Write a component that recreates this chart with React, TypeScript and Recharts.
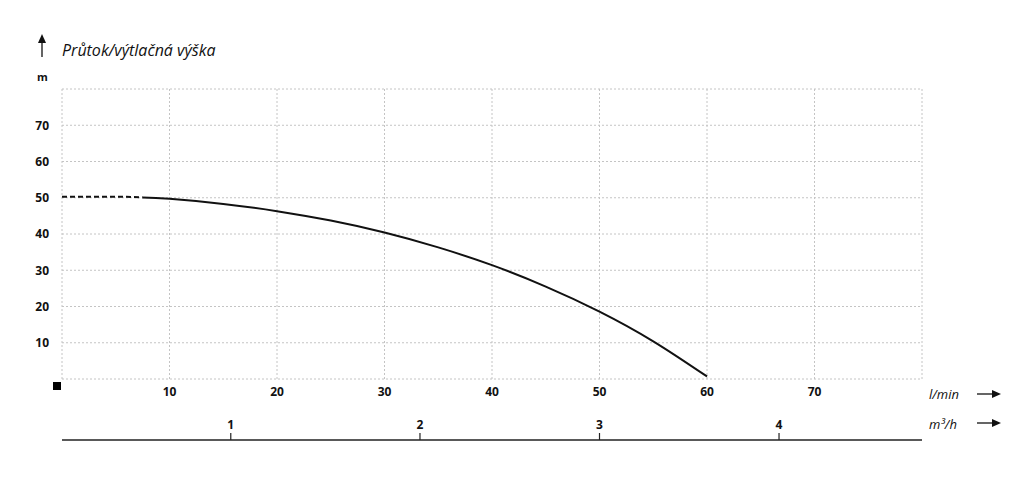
import { LineChart, Line, XAxis, YAxis, CartesianGrid, ReferenceDot } from 'recharts'

// Pump curve: flow (l/min) vs head (m)
const flowLmin = [0, 5, 7.5, 10, 15, 20, 25, 30, 35, 40, 45, 50, 55, 60]
const headDashed = [50.3, 50.3, 50.1, null, null, null, null, null, null, null, null, null, null, null]
const headSolid = [null, null, 50.1, 49.7, 48.3, 46.3, 43.7, 40.4, 36.3, 31.4, 25.5, 18.6, 10.4, 0.7]

const lminTicks = [0, 10, 20, 30, 40, 50, 60, 70, 80]
const headTicks = [0, 10, 20, 30, 40, 50, 60, 70, 80]
const m3hTickPos = [15.7, 33.3, 50, 66.7]
const m3hTickLabels = ['1', '2', '3', '4']

const data = flowLmin.map((q, i) => ({
  q,
  dashed: headDashed[i],
  solid: headSolid[i]
}))

const FONT = '"Open Sans", "Noto Sans", sans-serif'

const hideEnds = (v: number) => (v === 0 || v === 80 ? '' : String(v))

const M3hTick = ({ x, y, payload }: { x?: number; y?: number; payload?: { value: number } }) => {
  const idx = m3hTickPos.indexOf(payload?.value ?? -1)
  return (
    <g>
      <line x1={x} y1={y} x2={x} y2={(y ?? 0) - 7} stroke="#222" strokeWidth={1.2} />
      <text x={x} y={(y ?? 0) - 11} textAnchor="middle" fontSize={12} fontWeight={700} fontFamily={FONT} fill="#111">
        {m3hTickLabels[idx]}
      </text>
    </g>
  )
}

const OriginSquare = ({ cx, cy }: { cx?: number; cy?: number }) => (
  <rect x={(cx ?? 0) - 9} y={(cy ?? 0) + 3} width={8} height={8} fill="#000" />
)

const Arrow = ({ x1, y1, x2, y2 }: { x1: number; y1: number; x2: number; y2: number }) => {
  const ang = Math.atan2(y2 - y1, x2 - x1)
  const len = 9
  const w = 4
  const bx = x2 - len * Math.cos(ang)
  const by = y2 - len * Math.sin(ang)
  const px = -Math.sin(ang) * w
  const py = Math.cos(ang) * w
  return (
    <g>
      <line x1={x1} y1={y1} x2={bx} y2={by} stroke="#111" strokeWidth={1.3} />
      <polygon points={`${x2},${y2} ${bx + px},${by + py} ${bx - px},${by - py}`} fill="#111" />
    </g>
  )
}

export default function App() {
  const tickStyle = { fontSize: 12, fontWeight: 700, fill: '#111', fontFamily: FONT }
  return (
    <div style={{ position: 'absolute', left: 0, top: 0, width: 1033, height: 489, background: '#fff', fontFamily: FONT }}>
      <LineChart width={1033} height={489} data={data} margin={{ top: 89, right: 111, left: 0, bottom: 0 }}>
        <CartesianGrid stroke="#c4c4c4" strokeDasharray="2 2" xAxisId="lmin" />
        <XAxis
          xAxisId="lmin"
          dataKey="q"
          type="number"
          domain={[0, 80]}
          ticks={lminTicks}
          tickFormatter={hideEnds}
          axisLine={false}
          tickLine={false}
          tick={tickStyle}
          height={61}
          interval={0}
        />
        <XAxis
          xAxisId="m3h"
          dataKey="q"
          type="number"
          domain={[0, 80]}
          ticks={m3hTickPos}
          axisLine={{ stroke: '#222', strokeWidth: 1.5 }}
          tickLine={false}
          tickSize={0}
          tickMargin={0}
          tick={<M3hTick />}
          height={49}
          interval={0}
        />
        <YAxis
          type="number"
          domain={[0, 80]}
          ticks={headTicks}
          tickFormatter={hideEnds}
          axisLine={false}
          tickLine={false}
          tickMargin={7}
          tick={tickStyle}
          width={62}
          interval={0}
        />
        <Line
          xAxisId="lmin"
          dataKey="dashed"
          type="monotone"
          stroke="#111"
          strokeWidth={2}
          strokeDasharray="5 3"
          dot={false}
          connectNulls={false}
          isAnimationActive={false}
        />
        <Line
          xAxisId="lmin"
          dataKey="solid"
          type="natural"
          stroke="#111"
          strokeWidth={2}
          dot={false}
          connectNulls={false}
          isAnimationActive={false}
        />
        <ReferenceDot xAxisId="lmin" x={0} y={0} r={4} ifOverflow="visible" shape={<OriginSquare />} />
      </LineChart>

      <svg width={1033} height={489} style={{ position: 'absolute', left: 0, top: 0, pointerEvents: 'none' }}>
        <Arrow x1={42} y1={57} x2={42} y2={34} />
        <text x={62} y={56} fontSize={16} fontStyle="italic" fill="#111" fontFamily={FONT}>
          Průtok/výtlačná výška
        </text>
        <text x={37} y={81} fontSize={11} fontWeight={700} fill="#111" fontFamily={FONT}>
          m
        </text>
        <text x={929} y={399} fontSize={13} fontStyle="italic" fill="#111" fontFamily={FONT}>
          l/min
        </text>
        <Arrow x1={977} y1={394} x2={1001} y2={394} />
        <text x={929} y={429} fontSize={13} fontStyle="italic" fill="#111" fontFamily={FONT}>
          m³/h
        </text>
        <Arrow x1={977} y1={423} x2={1001} y2={423} />
      </svg>
    </div>
  )
}
